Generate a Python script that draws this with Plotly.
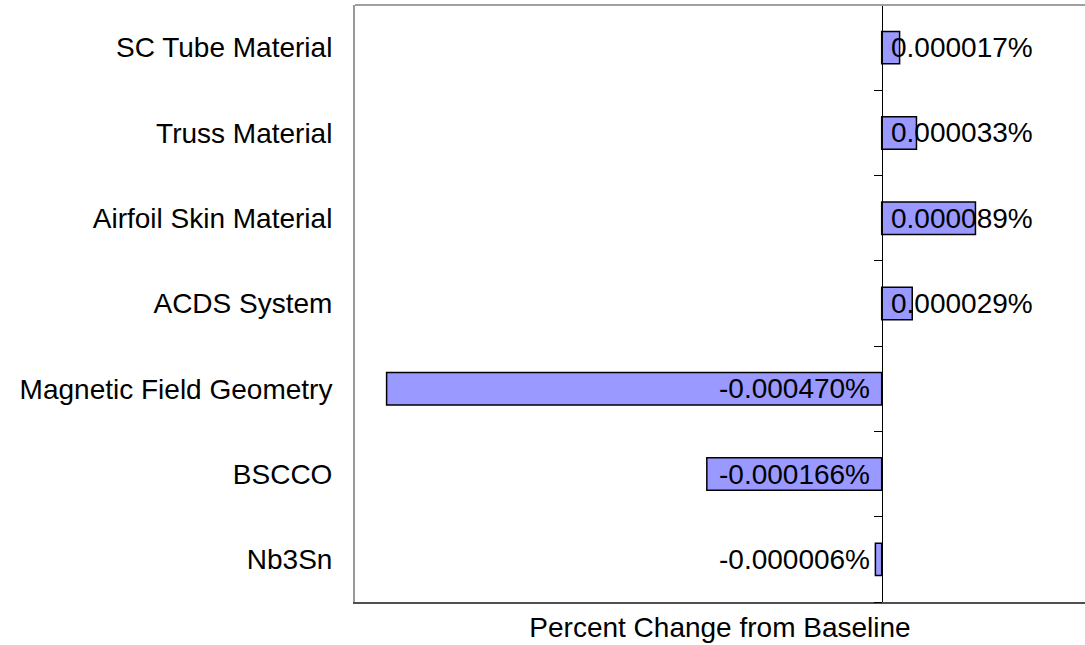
import plotly.graph_objects as go

categories = ["Nb3Sn", "BSCCO", "Magnetic Field Geometry", "ACDS System",
              "Airfoil Skin Material", "Truss Material", "SC Tube Material"]
values = [-0.000006, -0.000166, -0.000470, 0.000029, 0.000089, 0.000033, 0.000017]
x_range = [-0.0005, 0.000193]

FONT = "Liberation Sans, Arial, sans-serif"
FS = 28

fig = go.Figure()
fig.add_trace(go.Bar(
    x=values, y=categories, orientation="h",
    marker=dict(color="#9999FF", line=dict(color="black", width=1.5)),
    width=0.38, showlegend=False, hoverinfo="skip",
))
# dummy trace for the zero-crossing axis
fig.add_trace(go.Scatter(x=[None], y=[None], yaxis="y2", showlegend=False, hoverinfo="skip"))

annotations = []
for c, v in zip(categories, values):
    pos = v >= 0
    annotations.append(dict(
        x=0, y=c, xref="x", yref="y", text=f"{v:.6f}%",
        showarrow=False, xanchor="left" if pos else "right",
        xshift=7 if pos else -10, font=dict(family=FONT, size=FS, color="black"),
    ))

zero_frac = (0 - x_range[0]) / (x_range[1] - x_range[0])
n = len(categories)
bounds = [i - 0.5 for i in range(n + 1)]

fig.update_layout(
    width=1085, height=645,
    margin=dict(l=355, r=0, t=5, b=43),
    paper_bgcolor="white", plot_bgcolor="white",
    font=dict(family=FONT, size=FS, color="black"),
    xaxis=dict(range=x_range, showgrid=False, zeroline=False, showticklabels=False,
               ticks="", showline=True, linecolor="#505050", linewidth=2,
               title=dict(text="Percent Change from Baseline", standoff=14,
                          font=dict(family=FONT, size=FS, color="black"))),
    yaxis=dict(categoryorder="array", categoryarray=categories, range=[-0.5, n - 0.5],
               showgrid=False, zeroline=False, showline=True, linecolor="#999999",
               linewidth=2, ticks="", ticklabelstandoff=15,
               tickfont=dict(family=FONT, size=FS, color="black")),
    yaxis2=dict(overlaying="y", anchor="free", position=zero_frac, side="left",
                range=[-0.5, n - 0.5], showgrid=False, zeroline=False,
                showline=True, linecolor="black", linewidth=1,
                ticks="outside", ticklen=8, tickcolor="black", tickwidth=1,
                tickvals=bounds, showticklabels=False),
    annotations=annotations,
    shapes=[dict(type="line", xref="paper", yref="paper", x0=0, x1=1, y0=1, y1=1,
                 line=dict(color="#A0A0A0", width=2))],
)

fig.write_html("out.html", config={"displayModeBar": False},
               post_script="document.body.style.margin='0px';")
